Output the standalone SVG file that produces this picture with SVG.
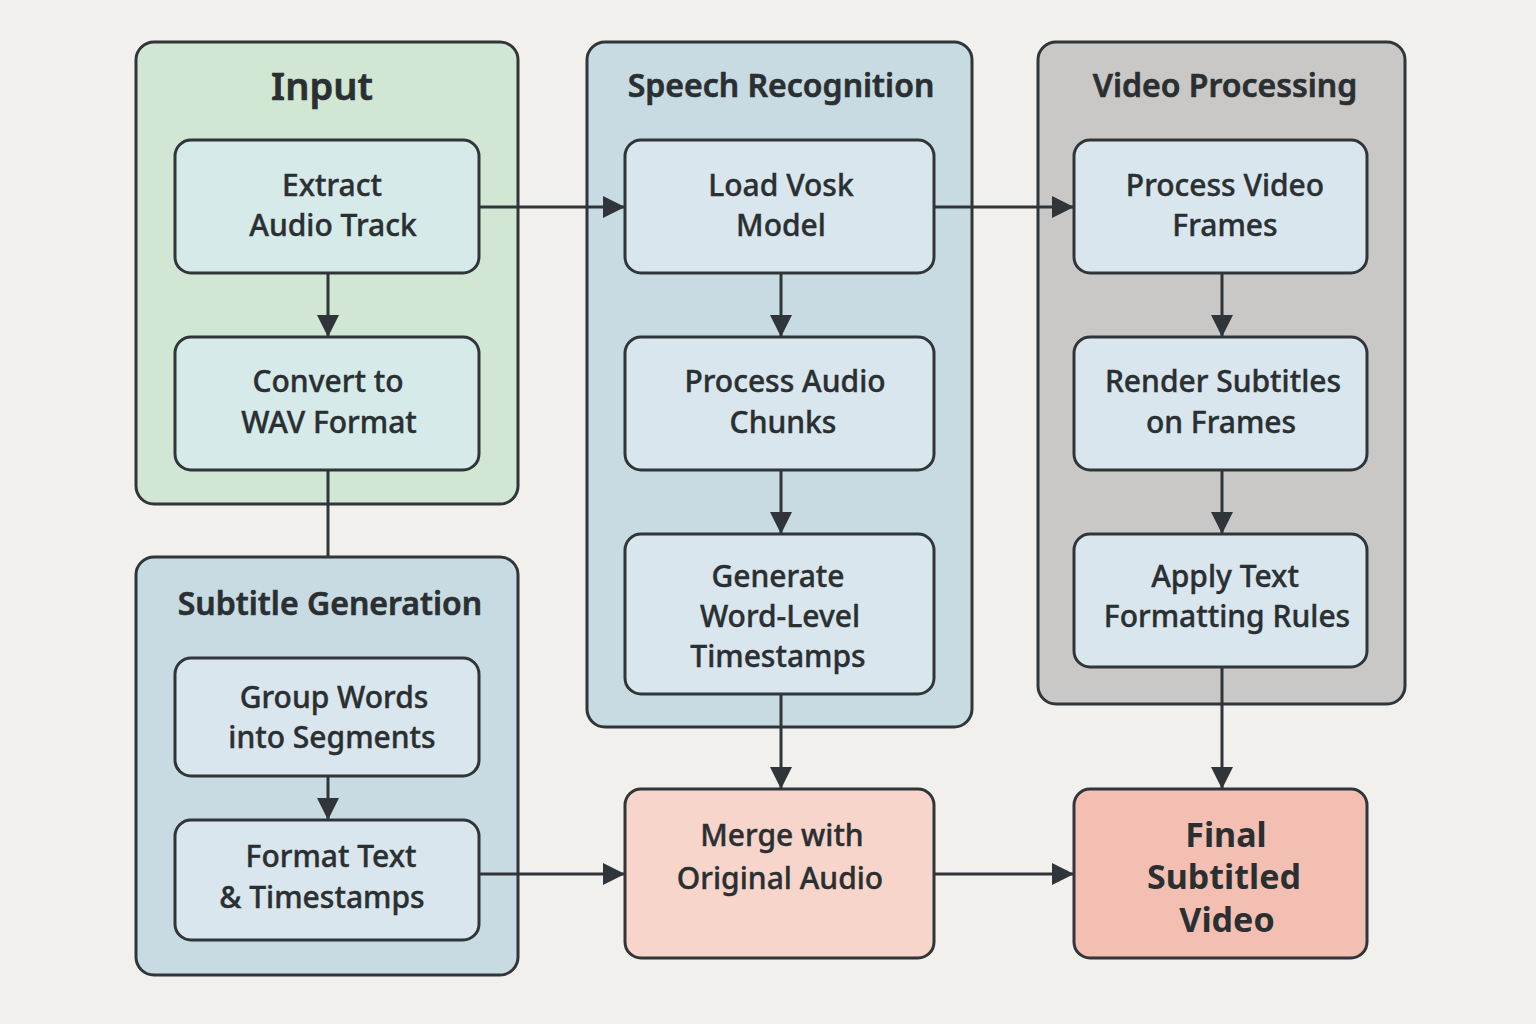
<svg xmlns="http://www.w3.org/2000/svg" width="1536" height="1024" viewBox="0 0 1536 1024">
<defs>
<style>
.grp{stroke:#2f3538;stroke-width:3}
.box{stroke:#2f3538;stroke-width:3}
.t{font-family:"Noto Sans","Liberation Sans",sans-serif;font-size:30px;font-weight:500;fill:#2a2f31;stroke:#2a2f31;stroke-width:0.4;text-anchor:middle}
.h{font-family:"Noto Sans","Liberation Sans",sans-serif;font-size:32px;font-weight:600;fill:#2a2f31;stroke:#2a2f31;stroke-width:0.6;text-anchor:middle}
.b{font-family:"Noto Sans","Liberation Sans",sans-serif;font-size:34px;font-weight:bold;fill:#2a2f31;text-anchor:middle}
.c{stroke:#2f3538;stroke-width:3;fill:none}
</style>
<marker id="ah" viewBox="0 0 22 22" refX="22" refY="11" markerWidth="22" markerHeight="22" markerUnits="userSpaceOnUse" orient="auto">
<path d="M0,0 L22,11 L0,22 Z" fill="#2f3538"/>
</marker>
</defs>
<rect width="1536" height="1024" fill="#f2f0ed"/>

<g id="group-input">
<rect class="grp" x="136" y="42" width="382" height="462" rx="18" fill="#d1e6d3"/>
<text class="h" x="322" y="100" style="font-size:38px">Input</text>
</g>
<g id="group-speech">
<rect class="grp" x="587" y="42" width="385" height="685" rx="18" fill="#c8dbe3"/>
<text class="h" x="781" y="97">Speech Recognition</text>
</g>
<g id="group-video">
<rect class="grp" x="1038" y="42" width="367" height="662" rx="18" fill="#cac8c6"/>
<text class="h" x="1225" y="97">Video Processing</text>
</g>
<g id="group-subtitle">
<rect class="grp" x="136" y="557" width="382" height="418" rx="18" fill="#c8dbe3"/>
<text class="h" x="330" y="615">Subtitle Generation</text>
</g>

<g id="connectors">
<line class="c" x1="479" y1="207" x2="625" y2="207" marker-end="url(#ah)"/>
<line class="c" x1="934" y1="207" x2="1074" y2="207" marker-end="url(#ah)"/>
<line class="c" x1="328" y1="273" x2="328" y2="337" marker-end="url(#ah)"/>
<line class="c" x1="781" y1="273" x2="781" y2="337" marker-end="url(#ah)"/>
<line class="c" x1="781" y1="470" x2="781" y2="534" marker-end="url(#ah)"/>
<line class="c" x1="1222" y1="273" x2="1222" y2="337" marker-end="url(#ah)"/>
<line class="c" x1="1222" y1="470" x2="1222" y2="534" marker-end="url(#ah)"/>
<line class="c" x1="328" y1="470" x2="328" y2="557"/>
<line class="c" x1="328" y1="776" x2="328" y2="820" marker-end="url(#ah)"/>
<line class="c" x1="781" y1="694" x2="781" y2="789" marker-end="url(#ah)"/>
<line class="c" x1="1222" y1="667" x2="1222" y2="789" marker-end="url(#ah)"/>
<line class="c" x1="479" y1="874" x2="625" y2="874" marker-end="url(#ah)"/>
<line class="c" x1="934" y1="874" x2="1074" y2="874" marker-end="url(#ah)"/>
</g>

<g id="extract">
<rect class="box" x="175" y="140" width="304" height="133" rx="16" fill="#d6eaea"/>
<text class="t" x="332" y="196">Extract</text>
<text class="t" x="333" y="236">Audio Track</text>
</g>
<g id="convert">
<rect class="box" x="175" y="337" width="304" height="133" rx="16" fill="#d6eaea"/>
<text class="t" x="328" y="392">Convert to</text>
<text class="t" x="329" y="433">WAV Format</text>
</g>
<g id="load-vosk">
<rect class="box" x="625" y="140" width="309" height="133" rx="16" fill="#d9e6ee"/>
<text class="t" x="781" y="196">Load Vosk</text>
<text class="t" x="781" y="236">Model</text>
</g>
<g id="process-audio">
<rect class="box" x="625" y="337" width="309" height="133" rx="16" fill="#d9e6ee"/>
<text class="t" x="785" y="392">Process Audio</text>
<text class="t" x="783" y="433">Chunks</text>
</g>
<g id="generate">
<rect class="box" x="625" y="534" width="309" height="160" rx="16" fill="#d9e6ee"/>
<text class="t" x="778" y="587">Generate</text>
<text class="t" x="780" y="627">Word-Level</text>
<text class="t" x="778" y="667">Timestamps</text>
</g>
<g id="process-video">
<rect class="box" x="1074" y="140" width="293" height="133" rx="16" fill="#d9e6ee"/>
<text class="t" x="1225" y="196">Process Video</text>
<text class="t" x="1225" y="236">Frames</text>
</g>
<g id="render">
<rect class="box" x="1074" y="337" width="293" height="133" rx="16" fill="#d9e6ee"/>
<text class="t" x="1223" y="392">Render Subtitles</text>
<text class="t" x="1221" y="433">on Frames</text>
</g>
<g id="apply">
<rect class="box" x="1074" y="534" width="293" height="133" rx="16" fill="#d9e6ee"/>
<text class="t" x="1225" y="587">Apply Text</text>
<text class="t" x="1227" y="627">Formatting Rules</text>
</g>
<g id="group-words">
<rect class="box" x="175" y="658" width="304" height="118" rx="16" fill="#d9e6ee"/>
<text class="t" x="334" y="708">Group Words</text>
<text class="t" x="332" y="748">into Segments</text>
</g>
<g id="format-text">
<rect class="box" x="175" y="820" width="304" height="120" rx="16" fill="#d9e6ee"/>
<text class="t" x="331" y="867">Format Text</text>
<text class="t" x="322" y="908">&amp; Timestamps</text>
</g>
<g id="merge">
<rect class="box" x="625" y="789" width="309" height="169" rx="16" fill="#f7d5ca"/>
<text class="t" x="782" y="846">Merge with</text>
<text class="t" x="780" y="889">Original Audio</text>
</g>
<g id="final">
<rect class="box" x="1074" y="789" width="293" height="169" rx="16" fill="#f3bfb3"/>
<text class="b" x="1226" y="847">Final</text>
<text class="b" x="1224" y="889">Subtitled</text>
<text class="b" x="1227" y="932">Video</text>
</g>
</svg>
